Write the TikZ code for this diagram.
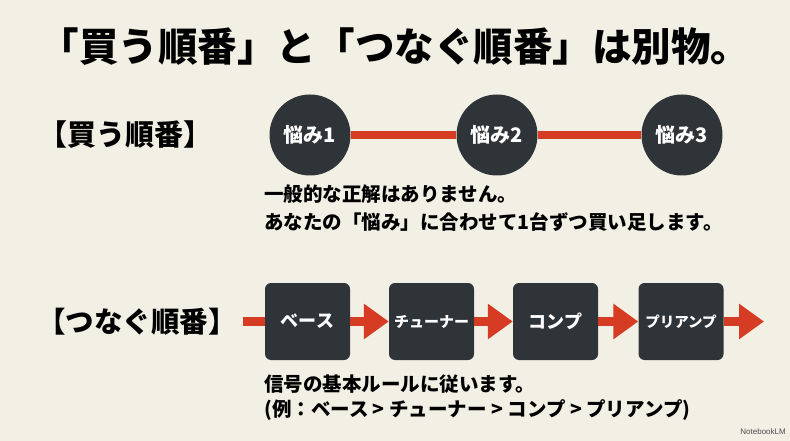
\documentclass[tikz,border=0pt]{standalone}
\usepackage{fontspec}
\newfontfamily\jp{Noto Sans CJK JP Black}
\setsansfont{Liberation Sans}
\usetikzlibrary{arrows.meta}
\definecolor{bg}{HTML}{F2F0E4}
\definecolor{dark}{HTML}{2F3439}
\definecolor{accent}{HTML}{D63B24}
\tikzset{
  every node/.style={font=\jp, inner sep=0pt},
  stepcircle/.style={circle, fill=dark, minimum size=81pt, text=white, font=\jp\fontsize{20}{20}\selectfont},
  stepbox/.style={rectangle, rounded corners=6pt, fill=dark, minimum width=85pt, minimum height=77pt, text=white},
  redbar/.style={draw=accent, line width=8pt},
  redarrow/.style={draw=accent, line width=9pt, -{Triangle[length=25pt,width=34pt]}},
  bodytext/.style={anchor=west, font=\jp\fontsize{19.5}{19.5}\selectfont}
}
\begin{document}
\begin{tikzpicture}[x=1pt,y=-1pt]
\fill[bg] (0,0) rectangle (790,441);
\useasboundingbox (0,0) rectangle (790,441);
% title
\node[font=\jp\fontsize{39.5}{39.5}\selectfont] (title) at (395,47) {「買う順番」と「つなぐ順番」は別物。};
% buy order
\node[anchor=west, font=\jp\fontsize{29}{29}\selectfont] (lab1) at (38,135) {【買う順番】};
\node[stepcircle] (c1) at (310,135) {悩み1};
\node[stepcircle] (c2) at (497,135) {悩み2};
\node[stepcircle] (c3) at (682,135) {悩み3};
\draw[redbar] (c1.east) -- (c2.west);
\draw[redbar] (c2.east) -- (c3.west);
\node[bodytext] (t1) at (264,194) {一般的な正解はありません。};
\node[bodytext] (t2) at (264,222) {あなたの「悩み」に合わせて1台ずつ買い足します。};
% connect order
\node[anchor=west, font=\jp\fontsize{28.5}{28.5}\selectfont] (lab2) at (37,322) {【つなぐ順番】};
\node[stepbox, font=\jp\fontsize{18}{18}\selectfont] (b1) at (307.5,321.5) {ベース};
\node[stepbox, font=\jp\fontsize{15}{15}\selectfont] (b2) at (431.5,321.5) {チューナー};
\node[stepbox, font=\jp\fontsize{18}{18}\selectfont] (b3) at (555.5,321.5) {コンプ};
\node[stepbox, font=\jp\fontsize{14.5}{14.5}\selectfont] (b4) at (681,321.5) {プリアンプ};
\coordinate (start) at (243,321.5);
\coordinate (finish) at (764,321.5);
\draw[draw=accent, line width=9pt] (start) -- (b1.west);
\draw[redarrow] (b1.east) -- (b2.west);
\draw[redarrow] (b2.east) -- (b3.west);
\draw[redarrow] (b3.east) -- (b4.west);
\draw[redarrow] (b4.east) -- (finish);
\node[bodytext] (t3) at (264,384) {信号の基本ルールに従います。};
\node[bodytext] (t4) at (264,410) {(例：ベース > チューナー > コンプ > プリアンプ)};
% watermark
\node[anchor=east, text=black!70, font=\sffamily\fontsize{8}{8}\selectfont] (wm) at (786,432) {NotebookLM};
\end{tikzpicture}
\end{document}
